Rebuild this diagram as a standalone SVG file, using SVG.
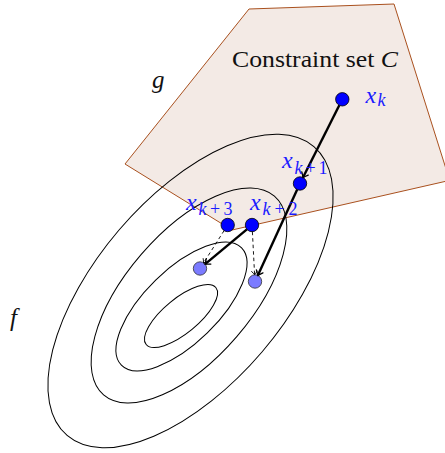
<svg xmlns="http://www.w3.org/2000/svg" width="445" height="453" viewBox="0 0 445 453">
<defs>
<style>
.lvl{fill:none;stroke:#000;stroke-width:1}
.step{fill:none;stroke:#000;stroke-width:2.4;marker-end:url(#tip)}
.proj{fill:none;stroke:#000;stroke-width:0.9;stroke-dasharray:3.5 3;marker-end:url(#tipS)}
.pt{fill:#0000ff;stroke:#000;stroke-width:0.8}
.ptl{fill:#7b7bff;stroke:#333;stroke-width:0.8}
.lbl{font-family:"Liberation Serif",serif;fill:#1a1aff}
.math{font-family:"Liberation Serif",serif;font-style:italic;fill:#111}
</style>
<marker id="tip" markerUnits="userSpaceOnUse" viewBox="-6 -5 7 10" refX="0" refY="0" markerWidth="7" markerHeight="10" orient="auto" overflow="visible">
<path d="M-4.5,-3.6 Q-1.5,-1 0,0 Q-1.5,1 -4.5,3.6" fill="none" stroke="#000" stroke-width="1.3" stroke-linecap="round"/>
</marker>
<marker id="tipS" markerUnits="userSpaceOnUse" viewBox="-6 -5 7 10" refX="0" refY="0" markerWidth="7" markerHeight="10" orient="auto" overflow="visible">
<path d="M-3.5,-2.8 Q-1.2,-0.8 0,0 Q-1.2,0.8 -3.5,2.8" fill="none" stroke="#000" stroke-width="0.9" stroke-linecap="round"/>
</marker>
</defs>
<g id="constraint-set">
<polygon points="125,164 249,9 394,4 447,172 447,181 232,230" fill="#f3eae5" stroke="#a9501e" stroke-width="1"/>
<text x="232" y="67" font-family="Liberation Serif, serif" font-size="23" fill="#111" textLength="166" lengthAdjust="spacingAndGlyphs">Constraint set <tspan font-style="italic">C</tspan></text>
</g>
<g id="level-sets">
<ellipse class="lvl" cx="190.5" cy="291" rx="190" ry="94" transform="rotate(-49.5 190.5 291)"/>
<ellipse class="lvl" cx="189" cy="295.5" rx="131" ry="63" transform="rotate(-49.3 189 295.5)"/>
<ellipse class="lvl" cx="181.5" cy="306.5" rx="84" ry="37" transform="rotate(-44.3 181.5 306.5)"/>
<ellipse class="lvl" cx="181" cy="316" rx="45" ry="17.4" transform="rotate(-39.3 181 316)"/>
</g>
<text class="math" x="152" y="88" font-size="25">g</text>
<text class="math" x="10" y="326" font-size="25">f</text>
<g id="node-xk"><circle class="pt" cx="342.3" cy="99.3" r="6.7"/></g>
<g id="node-xk1"><circle class="pt" cx="300" cy="183.5" r="6.7"/></g>
<g id="node-xk2"><circle class="pt" cx="252" cy="225" r="6.7"/></g>
<g id="node-xk3"><circle class="pt" cx="227.7" cy="225" r="6.7"/></g>
<g id="node-y2"><circle class="ptl" cx="255" cy="281.5" r="6.7"/></g>
<g id="node-y3"><circle class="ptl" cx="200" cy="268.5" r="6.7"/></g>
<g id="connectors">
<line class="step" x1="339.3" y1="105.3" x2="303" y2="177.5"/>
<line class="step" x1="297.2" y1="189.6" x2="257.8" y2="275.4"/>
<line class="step" x1="246.9" y1="229.3" x2="205.1" y2="264.2"/>
<line class="proj" x1="252.4" y1="231.7" x2="254.6" y2="274.8"/>
<line class="proj" x1="224.1" y1="230.6" x2="203.6" y2="262.9"/>
</g>
<g id="labels">
<text class="lbl"><tspan x="365.5" y="102.5" font-size="24" font-style="italic">x</tspan><tspan x="377.5" y="106" font-size="18" font-style="italic">k</tspan></text>
<text class="lbl"><tspan x="282" y="168" font-size="24" font-style="italic">x</tspan><tspan x="294.5" y="173.5" font-size="18" textLength="33" lengthAdjust="spacing"><tspan font-style="italic">k</tspan>+1</tspan></text>
<text class="lbl"><tspan x="250" y="210" font-size="24" font-style="italic">x</tspan><tspan x="262.5" y="215" font-size="18" textLength="35" lengthAdjust="spacing"><tspan font-style="italic">k</tspan>+2</tspan></text>
<text class="lbl"><tspan x="186" y="210" font-size="24" font-style="italic">x</tspan><tspan x="198.5" y="215" font-size="18" textLength="34" lengthAdjust="spacing"><tspan font-style="italic">k</tspan>+3</tspan></text>
</g>
</svg>
